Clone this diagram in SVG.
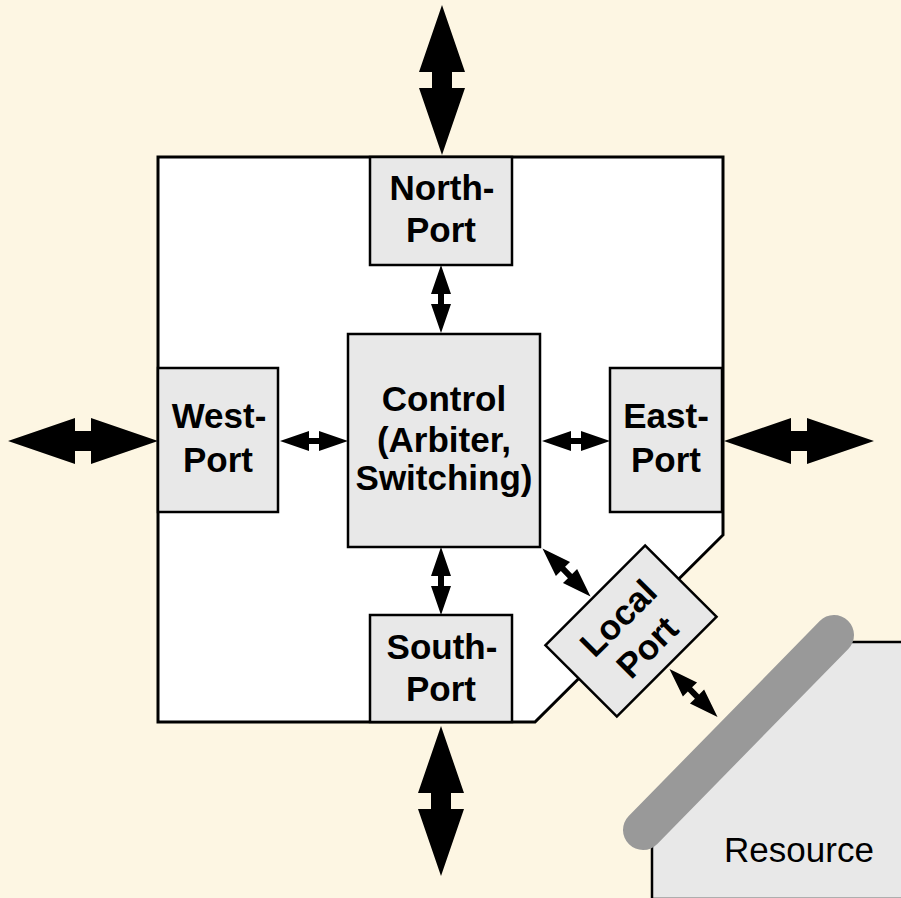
<svg xmlns="http://www.w3.org/2000/svg" width="901" height="898" viewBox="0 0 901 898">
  <style>
    .port { fill: #e8e8e8; stroke: #000; stroke-width: 2.5; }
    .lbl { font-family: "Liberation Sans", Arial, sans-serif; font-weight: bold; font-size: 35px; fill: #000; text-anchor: middle; }
    .res { font-family: "Liberation Sans", Arial, sans-serif; font-size: 35px; fill: #000; text-anchor: middle; }
    .arrow { fill: #000; }
  </style>
  <defs>
    <!-- double-headed arrows drawn along the x axis, centred on the origin -->
    <path id="bigArrow" d="M -75 0 L -8 -23 L -8 -10 L 8 -10 L 8 -23 L 75 0 L 8 23 L 8 10 L -8 10 L -8 23 Z"/>
    <path id="smallArrow" d="M -34 0 L -5 -10 L -5 -3 L 5 -3 L 5 -10 L 34 0 L 5 10 L 5 3 L -5 3 L -5 10 Z"/>
  </defs>

  <rect width="901" height="898" fill="#fdf6e3"/>

  <!-- resource block with its bus -->
  <g id="resource">
    <polygon points="652,899 652,830 845,642 903,642 903,899" fill="#e8e8e8" stroke="#000" stroke-width="2.5"/>
    <line x1="643" y1="830" x2="834" y2="635" stroke="#999999" stroke-width="40" stroke-linecap="round"/>
    <text class="res" x="799" y="862">Resource</text>
  </g>

  <!-- router body -->
  <g id="router">
    <polygon points="158,157 723,157 723,535 535,722 158,722" fill="#fff" stroke="#000" stroke-width="3"/>
  </g>

  <g id="north-port">
    <rect class="port" x="370" y="157" width="142" height="108"/>
    <text class="lbl" x="442" y="200">North-</text>
    <text class="lbl" x="441" y="242">Port</text>
  </g>

  <g id="south-port">
    <rect class="port" x="370" y="615" width="142" height="107"/>
    <text class="lbl" x="442" y="659">South-</text>
    <text class="lbl" x="441" y="701">Port</text>
  </g>

  <g id="west-port">
    <rect class="port" x="158" y="368" width="120" height="144"/>
    <text class="lbl" x="219" y="428">West-</text>
    <text class="lbl" x="218" y="472">Port</text>
  </g>

  <g id="east-port">
    <rect class="port" x="610" y="368" width="112" height="144"/>
    <text class="lbl" x="666" y="428">East-</text>
    <text class="lbl" x="666" y="472">Port</text>
  </g>

  <g id="control">
    <rect class="port" x="348" y="334" width="192" height="213"/>
    <text class="lbl" x="444" y="411">Control</text>
    <text class="lbl" x="444" y="452">(Arbiter,</text>
    <text class="lbl" x="444" y="490">Switching)</text>
  </g>

  <g id="local-port" transform="translate(631 631) rotate(-45)">
    <rect class="port" x="-70.5" y="-50.5" width="141" height="101"/>
    <text class="lbl" x="0" y="-6">Local</text>
    <text class="lbl" x="0" y="35">Port</text>
  </g>

  <g id="connectors" class="arrow">
    <use href="#bigArrow" transform="translate(442 80) rotate(90)"/>
    <use href="#bigArrow" transform="translate(441 801) rotate(90)"/>
    <use href="#bigArrow" transform="translate(83 441)"/>
    <use href="#bigArrow" transform="translate(799 441)"/>
    <use href="#smallArrow" transform="translate(441 299) rotate(90)"/>
    <use href="#smallArrow" transform="translate(441 581) rotate(90)"/>
    <use href="#smallArrow" transform="translate(314 441)"/>
    <use href="#smallArrow" transform="translate(576 441)"/>
    <use href="#smallArrow" transform="translate(566.5 572.5) rotate(45)"/>
    <use href="#smallArrow" transform="translate(693.5 693) rotate(45)"/>
  </g>
</svg>
